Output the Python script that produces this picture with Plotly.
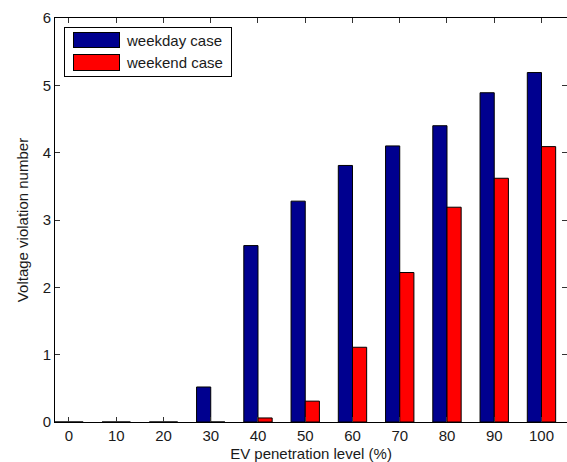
import plotly.graph_objects as go

# EV penetration levels (%) and violation counts for each scenario
penetration = [0, 10, 20, 30, 40, 50, 60, 70, 80, 90, 100]
weekday = [0, 0, 0, 0.52, 2.62, 3.28, 3.81, 4.10, 4.40, 4.89, 5.19]
weekend = [0, 0, 0, 0, 0.06, 0.31, 1.11, 2.22, 3.19, 3.62, 4.09]
series_names = ["weekday case", "weekend case"]
series_colors = ["#00008F", "#FF0000"]
y_ticks = [0, 1, 2, 3, 4, 5, 6]

W, H = 567, 462
ML, MR, MT, MB = 55, 0, 18, 40
FONT = "Liberation Sans, Arial, Helvetica, sans-serif"
TXT = "#1a1a1a"
X_RANGE = [-2.96, 105.4]
Y_RANGE = [0, 6]

fig = go.Figure()
for name, vals, col in zip(series_names, [weekday, weekend], series_colors):
    fig.add_trace(go.Bar(
        x=penetration, y=vals, name=name,
        marker=dict(color=col, line=dict(color="black", width=1)),
        showlegend=False,
    ))

# empty helper trace on the top/right axes so their tick marks are drawn
fig.add_trace(go.Scatter(x=[None], y=[None], xaxis="x2", yaxis="y2",
                         showlegend=False, hoverinfo="skip"))

tick_style = dict(ticks="inside", ticklen=5, tickcolor="#333", tickwidth=1)

fig.update_layout(
    width=W, height=H,
    margin=dict(l=ML, r=MR, t=MT, b=MB),
    paper_bgcolor="white", plot_bgcolor="white",
    barmode="group", bargap=0.4, bargroupgap=0,
    font=dict(family=FONT, size=15, color=TXT),
    xaxis=dict(
        range=X_RANGE, automargin=False,
        tickmode="array", tickvals=penetration,
        ticktext=[str(v) for v in penetration],
        showline=True, linecolor="black", linewidth=1, mirror=False,
        showgrid=False, zeroline=False,
        title=dict(text="EV penetration level (%)", standoff=6,
                   font=dict(family=FONT, size=15, color=TXT)),
        **tick_style,
    ),
    yaxis=dict(
        range=Y_RANGE, tickmode="array", tickvals=y_ticks, automargin=False,
        showline=True, linecolor="black", linewidth=1, mirror=False,
        showgrid=False, zeroline=False,
        title=dict(text="Voltage violation number", standoff=10,
                   font=dict(family=FONT, size=15, color=TXT)),
        **tick_style,
    ),
    xaxis2=dict(
        overlaying="x", side="top", anchor="y2", range=X_RANGE,
        tickmode="array", tickvals=penetration, showticklabels=False,
        showline=True, linecolor="black", linewidth=1, automargin=False,
        showgrid=False, zeroline=False, **tick_style,
    ),
    yaxis2=dict(
        overlaying="y", side="right", anchor="x2", range=Y_RANGE,
        tickmode="array", tickvals=y_ticks, showticklabels=False,
        showline=False, automargin=False,
        showgrid=False, zeroline=False, **tick_style,
    ),
)

# legend (frame, colour swatches, labels) placed in paper coordinates
PW, PH = W - ML - MR, H - MT - MB


def px(x):
    return (x - ML) / PW


def py(y):
    return (H - MB - y) / PH


def box(left, top, w, h, fill):
    fig.add_annotation(xref="paper", yref="paper", x=px(left), y=py(top),
                       xanchor="left", yanchor="top", text=" ", showarrow=False,
                       width=w - 2, height=h - 2, borderpad=0, borderwidth=1,
                       bordercolor="black", bgcolor=fill)


box(64, 27, 168, 50, "white")
patch_rows = [(32, 16), (54, 17)]
for (top, h), name, col in zip(patch_rows, series_names, series_colors):
    box(73, top, 47, h, col)
    fig.add_annotation(xref="paper", yref="paper", x=px(124), y=py(top + h / 2),
                       text=name, showarrow=False, xanchor="left", yanchor="middle",
                       font=dict(family=FONT, size=15, color=TXT))

fig.write_html("out.html")
